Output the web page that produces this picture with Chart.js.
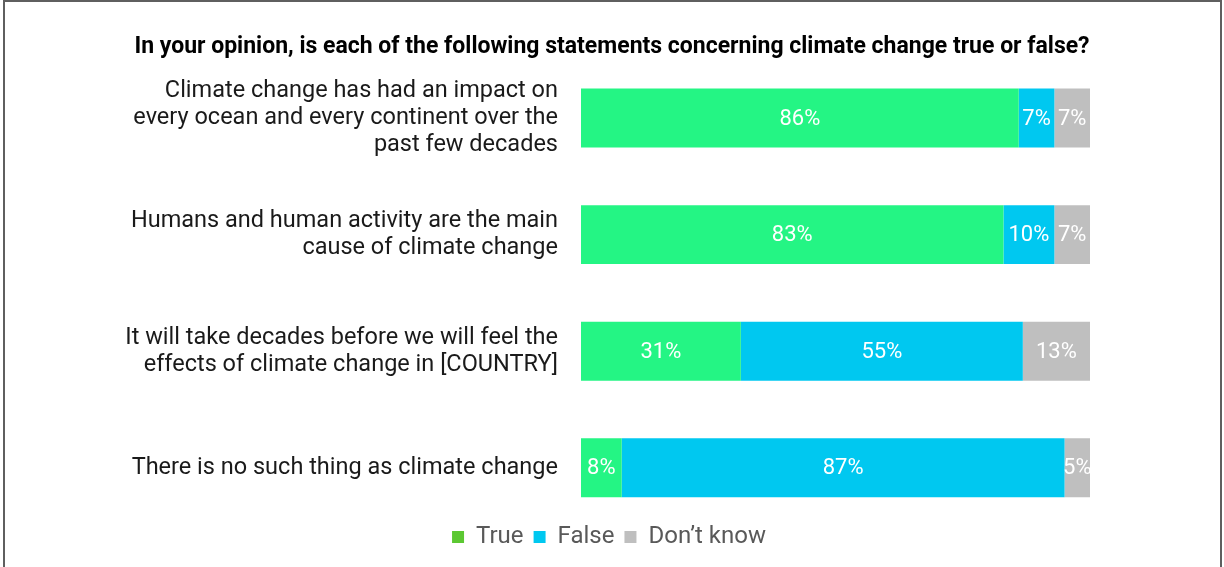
<!DOCTYPE html>
<html>
<head>
<meta charset="utf-8">
<script src="https://cdn.jsdelivr.net/npm/chart.js@4.4.1/dist/chart.umd.min.js"></script>
<style>
  html, body { margin: 0; padding: 0; background: #fff; overflow: hidden; }
  #wrap { position: relative; width: 1224px; height: 567px; }
  #frame { position: absolute; left: 3px; top: 0; width: 1215px; height: 600px;
           border: 2px solid #5f5f5f; pointer-events: none; }
</style>
</head>
<body>
<div id="wrap">
  <canvas id="chart" width="1224" height="567"></canvas>
  <div id="frame"></div>
</div>
<script>
const titleText = 'In your opinion, is each of the following statements concerning climate change true or false?';

const categories = [
    ['Climate change has had an impact on', 'every ocean and every continent over the', 'past few decades'],
    ['Humans and human activity are the main', 'cause of climate change'],
    ['It will take decades before we will feel the', 'effects of climate change in [COUNTRY]'],
    'There is no such thing as climate change'
];

// shares in %, labels show them rounded
const seriesNames = ['True', 'False', 'Don\u2019t know'];
const trueValues = [86, 83, 31.4, 8];
const falseValues = [7, 10, 55.4, 87];
const dontKnowValues = [7, 7, 13.2, 5];

const barColors = ['#24f584', '#00c8f0', '#bfbfbf'];
const legendColors = ['#5cc832', '#00c8f0', '#bfbfbf'];

// white % labels centred in each segment
const segmentLabels = {
    id: 'segmentLabels',
    afterDatasetsDraw(chart) {
        const ctx = chart.ctx;
        ctx.save();
        ctx.font = '22px Roboto';
        ctx.fillStyle = '#ffffff';
        ctx.textAlign = 'center';
        ctx.textBaseline = 'middle';
        chart.data.datasets.forEach((ds, i) => {
            chart.getDatasetMeta(i).data.forEach((bar, j) => {
                const x = (bar.x + bar.base) / 2;
                ctx.fillText(Math.round(ds.data[j]) + '%', x, bar.y + 1);
            });
        });
        ctx.restore();
    }
};

// pull the legend up under the last bar
const legendNudge = {
    id: 'legendNudge',
    afterLayout(chart) {
        const lg = chart.legend;
        lg.top -= 11; lg.bottom -= 11;
        lg.left -= 3; lg.right -= 3;
    }
};

const noEdgePadding = (scale) => {
    scale.paddingTop = 0;
    scale.paddingBottom = 0;
};

const ctx = document.getElementById('chart').getContext('2d');

new Chart(ctx, {
    type: 'bar',
    data: {
        labels: categories,
        datasets: [
            { label: seriesNames[0], data: trueValues, backgroundColor: barColors[0] },
            { label: seriesNames[1], data: falseValues, backgroundColor: barColors[1] },
            { label: seriesNames[2], data: dontKnowValues, backgroundColor: barColors[2] }
        ]
    },
    options: {
        indexAxis: 'y',
        responsive: false,
        animation: false,
        layout: { padding: { left: 0, right: 0, top: 0, bottom: -3 } },
        datasets: {
            bar: { categoryPercentage: 1, barPercentage: 0.506, borderWidth: 0 }
        },
        scales: {
            x: {
                stacked: true,
                min: 0,
                max: 100,
                display: false
            },
            y: {
                stacked: true,
                grid: { display: false },
                border: { display: false },
                ticks: {
                    color: '#1a1a1a',
                    padding: 15,
                    font: { family: 'Roboto', size: 23.5, lineHeight: 1.15 }
                },
                afterFit(scale) {
                    scale.width = 581;
                    noEdgePadding(scale);
                }
            },
            yRight: {
                axis: 'y',
                type: 'category',
                position: 'right',
                grid: { display: false },
                border: { display: false },
                ticks: { display: false },
                afterFit(scale) {
                    scale.width = 134;
                    noEdgePadding(scale);
                }
            }
        },
        plugins: {
            title: {
                display: true,
                text: titleText,
                color: '#000000',
                font: { family: 'Roboto', size: 23, weight: 'bold', lineHeight: 1.1 },
                padding: { top: 34.5, bottom: 0 }
            },
            legend: {
                position: 'bottom',
                labels: {
                    color: '#595959',
                    font: { family: 'Roboto', size: 24 },
                    boxWidth: 12,
                    boxHeight: 12,
                    padding: 10,
                    generateLabels(chart) {
                        return chart.data.datasets.map((ds, i) => ({
                            text: ds.label,
                            fillStyle: legendColors[i],
                            strokeStyle: legendColors[i],
                            lineWidth: 0,
                            fontColor: '#595959',
                            datasetIndex: i
                        }));
                    }
                }
            },
            tooltip: { enabled: false }
        }
    },
    plugins: [segmentLabels, legendNudge]
});
</script>
</body>
</html>
